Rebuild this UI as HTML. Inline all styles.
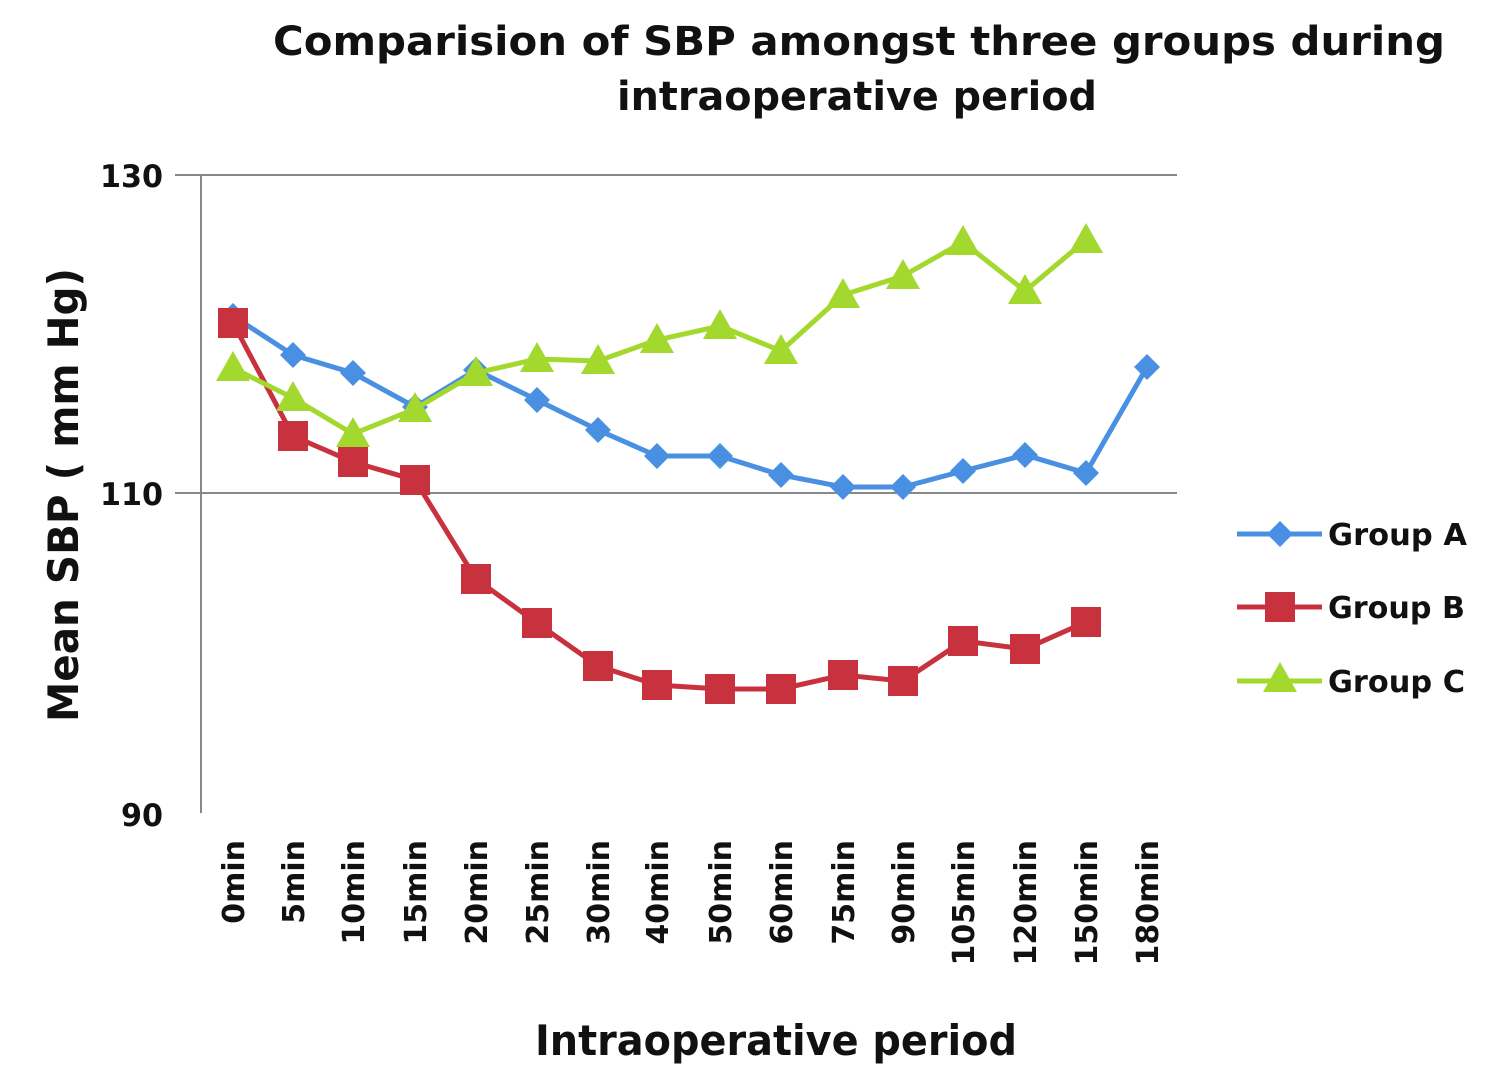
<!DOCTYPE html>
<html><head><meta charset="utf-8"><style>
body{margin:0;background:#fff}
svg text{font-family:"DejaVu Sans","Liberation Sans",sans-serif;font-weight:bold;fill:#111}
</style></head><body>
<svg width="1487" height="1079" viewBox="0 0 1487 1079" xmlns="http://www.w3.org/2000/svg">
<text x="273" y="55" font-size="40" textLength="1172" lengthAdjust="spacingAndGlyphs">Comparision  of SBP amongst three groups during</text>
<text x="617" y="110" font-size="40" textLength="480" lengthAdjust="spacingAndGlyphs">intraoperative period</text>
<line x1="175" y1="175" x2="1177" y2="175" stroke="#888" stroke-width="2"/>
<line x1="175" y1="493" x2="1177" y2="493" stroke="#888" stroke-width="2"/>
<line x1="201" y1="175" x2="201" y2="813" stroke="#888" stroke-width="2"/>
<text x="100" y="187" font-size="31" textLength="63" lengthAdjust="spacingAndGlyphs">130</text>
<text x="100" y="505" font-size="31" textLength="63" lengthAdjust="spacingAndGlyphs">110</text>
<text x="121" y="826" font-size="31" textLength="42" lengthAdjust="spacingAndGlyphs">90</text>
<text transform="translate(78,722) rotate(-90)" font-size="42" textLength="454" lengthAdjust="spacingAndGlyphs">Mean SBP ( mm Hg)</text>
<text x="535" y="1055" font-size="42" textLength="482" lengthAdjust="spacingAndGlyphs">Intraoperative period</text>
<g font-size="30">
<text transform="translate(244,840) rotate(-90)" text-anchor="end">0min</text>
<text transform="translate(304,840) rotate(-90)" text-anchor="end">5min</text>
<text transform="translate(364,840) rotate(-90)" text-anchor="end">10min</text>
<text transform="translate(426,840) rotate(-90)" text-anchor="end">15min</text>
<text transform="translate(487,840) rotate(-90)" text-anchor="end">20min</text>
<text transform="translate(548,840) rotate(-90)" text-anchor="end">25min</text>
<text transform="translate(609,840) rotate(-90)" text-anchor="end">30min</text>
<text transform="translate(668,840) rotate(-90)" text-anchor="end">40min</text>
<text transform="translate(731,840) rotate(-90)" text-anchor="end">50min</text>
<text transform="translate(792,840) rotate(-90)" text-anchor="end">60min</text>
<text transform="translate(854,840) rotate(-90)" text-anchor="end">75min</text>
<text transform="translate(914,840) rotate(-90)" text-anchor="end">90min</text>
<text transform="translate(974,840) rotate(-90)" text-anchor="end">105min</text>
<text transform="translate(1036,840) rotate(-90)" text-anchor="end">120min</text>
<text transform="translate(1097,840) rotate(-90)" text-anchor="end">150min</text>
<text transform="translate(1158,840) rotate(-90)" text-anchor="end">180min</text>
</g>
<defs>
<path id="dia" d="M0,-13 L13,0 L0,13 L-13,0Z" fill="#4a90e2"/>
<rect id="sq" x="-15" y="-15" width="30" height="30" fill="#c8323f"/>
<path id="tri" d="M0,-17 L17,13 L-17,13Z" fill="#a3d82e"/>
</defs>
<polyline fill="none" stroke="#4a90e2" stroke-width="5" points="233,316 293,355 353,373 415,407 476,370 537,400 598,430 657,456 720,456 781,475 843,487 903,487 963,471 1025,455 1086,473 1147,367"/>
<g>
<use href="#dia" x="233" y="316"/><use href="#dia" x="293" y="355"/><use href="#dia" x="353" y="373"/><use href="#dia" x="415" y="407"/><use href="#dia" x="476" y="370"/><use href="#dia" x="537" y="400"/><use href="#dia" x="598" y="430"/><use href="#dia" x="657" y="456"/><use href="#dia" x="720" y="456"/><use href="#dia" x="781" y="475"/><use href="#dia" x="843" y="487"/><use href="#dia" x="903" y="487"/><use href="#dia" x="963" y="471"/><use href="#dia" x="1025" y="455"/><use href="#dia" x="1086" y="473"/><use href="#dia" x="1147" y="367"/>
</g>
<polyline fill="none" stroke="#c8323f" stroke-width="5" points="233,323 293,436 353,462 415,480 476,579 537,623 598,666 657,685 720,689 781,689 843,675 903,681 963,641 1025,649 1086,622"/>
<g>
<use href="#sq" x="233" y="323"/><use href="#sq" x="293" y="436"/><use href="#sq" x="353" y="462"/><use href="#sq" x="415" y="480"/><use href="#sq" x="476" y="579"/><use href="#sq" x="537" y="623"/><use href="#sq" x="598" y="666"/><use href="#sq" x="657" y="685"/><use href="#sq" x="720" y="689"/><use href="#sq" x="781" y="689"/><use href="#sq" x="843" y="675"/><use href="#sq" x="903" y="681"/><use href="#sq" x="963" y="641"/><use href="#sq" x="1025" y="649"/><use href="#sq" x="1086" y="622"/>
</g>
<polyline fill="none" stroke="#a3d82e" stroke-width="5" points="233,368 293,398 353,434 415,409 476,373 537,359 598,361 657,340 720,326 781,351 843,295 903,276 963,242 1025,291 1086,240"/>
<g>
<use href="#tri" x="233" y="368"/><use href="#tri" x="293" y="398"/><use href="#tri" x="353" y="434"/><use href="#tri" x="415" y="409"/><use href="#tri" x="476" y="373"/><use href="#tri" x="537" y="359"/><use href="#tri" x="598" y="361"/><use href="#tri" x="657" y="340"/><use href="#tri" x="720" y="326"/><use href="#tri" x="781" y="351"/><use href="#tri" x="843" y="295"/><use href="#tri" x="903" y="276"/><use href="#tri" x="963" y="242"/><use href="#tri" x="1025" y="291"/><use href="#tri" x="1086" y="240"/>
</g>
<line x1="1237" y1="534" x2="1322" y2="534" stroke="#4a90e2" stroke-width="5"/><use href="#dia" x="1280" y="534"/>
<text x="1328" y="545" font-size="30" textLength="139" lengthAdjust="spacingAndGlyphs">Group A</text>
<line x1="1237" y1="607" x2="1322" y2="607" stroke="#c8323f" stroke-width="5"/><use href="#sq" x="1280" y="607"/>
<text x="1328" y="618" font-size="30" textLength="137" lengthAdjust="spacingAndGlyphs">Group B</text>
<line x1="1237" y1="681" x2="1322" y2="681" stroke="#a3d82e" stroke-width="5"/><use href="#tri" x="1280" y="679"/>
<text x="1328" y="692" font-size="30" textLength="137" lengthAdjust="spacingAndGlyphs">Group C</text>
</svg>
</body></html>
